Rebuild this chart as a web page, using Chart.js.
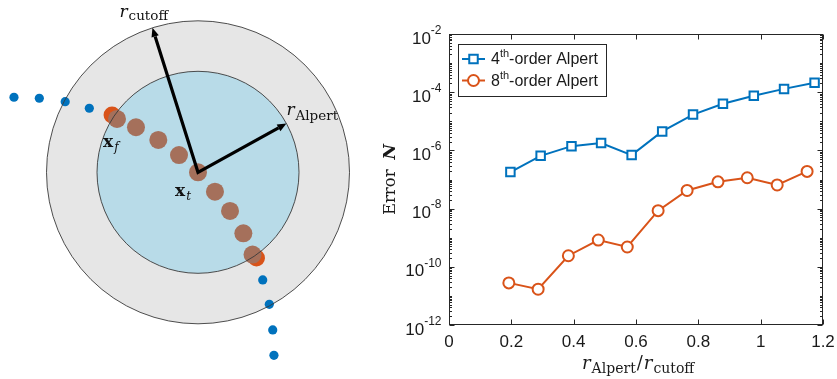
<!DOCTYPE html>
<html>
<head>
<meta charset="utf-8">
<script src="https://cdn.jsdelivr.net/npm/chart.js@4.4.1/dist/chart.umd.min.js"></script>
<style>
  html, body { margin: 0; padding: 0; background: #fff; }
  #wrap { position: relative; width: 837px; height: 379px; }
  #stencil { position: absolute; left: 0; top: 0; }
  #errors { position: absolute; left: 380px; top: 0; }
</style>
</head>
<body>
<div id="wrap">
  <canvas id="stencil" width="380" height="379"></canvas>
  <canvas id="errors" width="457" height="379"></canvas>
</div>
<script>
// stencil sketch, lengths in units of r_Alpert
var rAlpert = 1.0;
var rCutoff = 1.5;
var cutoffAngle = 107.5;   // degrees, counter-clockwise from +x
var alpertAngle = 28.9;

// far-field nodes (blue)
var farX = [-1.822, -1.571, -1.315, -1.076, 0.641, 0.706, 0.740, 0.752];
var farY = [0.743, 0.733, 0.699, 0.634, -1.066, -1.307, -1.561, -1.812];
// nodes on the Alpert boundary (red)
var edgeX = [-0.851, 0.579];
var edgeY = [0.567, -0.848];
// corrected nodes inside r_Alpert (brown)
var nearX = [-0.802, -0.614, -0.393, -0.188, 0.0, 0.168, 0.317, 0.449, 0.540];
var nearY = [0.528, 0.446, 0.320, 0.171, 0.0, -0.192, -0.383, -0.604, -0.815];

// error vs r_Alpert / r_cutoff
var ratio4 = [0.197, 0.294, 0.393, 0.488, 0.586, 0.684, 0.783, 0.879, 0.978, 1.075, 1.173];
var error4 = [1.8e-7, 6.5e-7, 1.4e-6, 1.8e-6, 6.9e-7, 4.5e-6, 1.7e-5, 4.0e-5, 7.6e-5, 1.3e-4, 2.1e-4];
var ratio8 = [0.192, 0.286, 0.383, 0.479, 0.572, 0.671, 0.764, 0.863, 0.957, 1.053, 1.149];
var error8 = [2.8e-11, 1.7e-11, 2.4e-10, 8.3e-10, 4.8e-10, 8.5e-9, 4.2e-8, 8.3e-8, 1.15e-7, 6.5e-8, 1.9e-7];

var xTicks = [0, 0.2, 0.4, 0.6, 0.8, 1, 1.2];
var yTickExp = [-12, -10, -8, -6, -4, -2];

var BLUE = '#0072BD';
var ORANGE = '#D95319';
var INK = '#262626';

function pts(xs, ys) {
    return xs.map(function (x, i) { return { x: x, y: ys[i] }; });
}

// base text followed by a lowered subscript, returns end x
function subText(ctx, x, y, base, baseFont, sub, subFont, drop) {
    ctx.font = baseFont;
    ctx.fillText(base, x, y);
    var w = ctx.measureText(base).width + 1;
    ctx.font = subFont;
    ctx.fillText(sub, x + w, y + drop);
    return x + w + ctx.measureText(sub).width;
}

function arrowHead(ctx, x0, y0, x1, y1, len, half) {
    var a = Math.atan2(y1 - y0, x1 - x0);
    var bx = x1 - len * Math.cos(a), by = y1 - len * Math.sin(a);
    ctx.beginPath();
    ctx.moveTo(x1, y1);
    ctx.lineTo(bx + half * Math.sin(a), by - half * Math.cos(a));
    ctx.lineTo(bx - half * Math.sin(a), by + half * Math.cos(a));
    ctx.closePath();
    ctx.fill();
    return { x: bx, y: by };
}

var stencilPlugin = {
    id: 'stencil',
    beforeDatasetsDraw: function (chart) {
        var ctx = chart.ctx, xs = chart.scales.x, ys = chart.scales.y;
        var cx = xs.getPixelForValue(0), cy = ys.getPixelForValue(0);
        ctx.save();
        ctx.beginPath();
        ctx.arc(cx, cy, xs.getPixelForValue(rCutoff) - cx, 0, 2 * Math.PI);
        ctx.fillStyle = '#e6e6e6';
        ctx.fill();
        ctx.beginPath();
        ctx.arc(cx, cy, xs.getPixelForValue(rAlpert) - cx, 0, 2 * Math.PI);
        ctx.fillStyle = '#b8dbe8';
        ctx.fill();
        ctx.restore();
    },
    afterDatasetsDraw: function (chart) {
        var ctx = chart.ctx, xs = chart.scales.x, ys = chart.scales.y;
        var cx = xs.getPixelForValue(0), cy = ys.getPixelForValue(0);
        ctx.save();
        // circle outlines sit on top of the nodes
        ctx.strokeStyle = '#3a3a3a';
        ctx.lineWidth = 0.9;
        [rCutoff, rAlpert].forEach(function (r) {
            ctx.beginPath();
            ctx.arc(cx, cy, xs.getPixelForValue(r) - cx, 0, 2 * Math.PI);
            ctx.stroke();
        });

        // radius arrows
        var ca = cutoffAngle * Math.PI / 180, aa = alpertAngle * Math.PI / 180;
        var tc = { x: xs.getPixelForValue(rCutoff * Math.cos(ca)), y: ys.getPixelForValue(rCutoff * Math.sin(ca)) };
        var ta = { x: xs.getPixelForValue(rAlpert * Math.cos(aa)), y: ys.getPixelForValue(rAlpert * Math.sin(aa)) };
        ctx.fillStyle = '#000';
        ctx.strokeStyle = '#000';
        var bc = arrowHead(ctx, cx, cy, tc.x, tc.y, 9, 3.8);
        var ba = arrowHead(ctx, cx, cy, ta.x, ta.y, 9, 3.8);
        ctx.lineWidth = 3.2;
        ctx.lineJoin = 'miter';
        ctx.beginPath();
        ctx.moveTo(bc.x, bc.y);
        ctx.lineTo(cx, cy);
        ctx.lineTo(ba.x, ba.y);
        ctx.stroke();

        // labels
        ctx.fillStyle = '#111';
        ctx.textBaseline = 'alphabetic';
        ctx.textAlign = 'left';
        subText(ctx, tc.x - 33, tc.y - 11, 'r', 'italic 17px "DejaVu Serif"', 'cutoff', '13.5px "DejaVu Serif"', 3.5);
        subText(ctx, ta.x + 0, ta.y - 8, 'r', 'italic 17px "DejaVu Serif"', 'Alpert', '13.5px "DejaVu Serif"', 4.5);
        subText(ctx, cx - 95, cy - 25, 'x', 'bold 17px "DejaVu Serif"', 'f', 'italic 12px "DejaVu Serif"', 4);
        subText(ctx, cx - 23, cy + 24, 'x', 'bold 17px "DejaVu Serif"', 't', 'italic 12px "DejaVu Serif"', 4);
        ctx.restore();
    }
};

new Chart(document.getElementById('stencil'), {
    type: 'scatter',
    data: {
        datasets: [
            { data: pts(nearX, nearY), pointRadius: 9, pointBackgroundColor: '#a5705b', pointBorderWidth: 0 },
            { data: pts(edgeX, edgeY), pointRadius: 8.5, pointBackgroundColor: ORANGE, pointBorderWidth: 0 },
            { data: pts(farX, farY), pointRadius: 4.6, pointBackgroundColor: BLUE, pointBorderWidth: 0 }
        ]
    },
    options: {
        responsive: false,
        animation: false,
        events: [],
        layout: { padding: 0, autoPadding: false },
        plugins: { legend: { display: false }, tooltip: { enabled: false } },
        scales: {
            x: { type: 'linear', display: false, bounds: 'data', min: -198 / 101, max: 182 / 101 },
            y: { type: 'linear', display: false, bounds: 'data', min: -206.7 / 101, max: 172.3 / 101 }
        }
    },
    plugins: [stencilPlugin]
});

// box axes with inward ticks, tick labels, axis titles and legend
var axesPlugin = {
    id: 'boxAxes',
    afterDatasetsDraw: function (chart) {
        var ctx = chart.ctx, a = chart.chartArea;
        var xs = chart.scales.x, ys = chart.scales.y;
        var L = Math.round(a.left) + 0.5, R = Math.round(a.right) - 0.5;
        var T = Math.round(a.top) + 0.5, B = Math.round(a.bottom) - 0.5;
        ctx.save();
        ctx.strokeStyle = INK;
        ctx.lineWidth = 1;
        ctx.strokeRect(L, T, R - L, B - T);

        ctx.beginPath();
        xTicks.forEach(function (v) {
            var px = Math.round(xs.getPixelForValue(v)) + 0.5;
            ctx.moveTo(px, B); ctx.lineTo(px, B - 5);
            ctx.moveTo(px, T); ctx.lineTo(px, T + 5);
        });
        for (var e = -12; e <= -2; e++) {
            for (var m = 1; m <= 9; m++) {
                if (e === -2 && m > 1) break;
                var py = Math.round(ys.getPixelForValue(m * Math.pow(10, e))) + 0.5;
                var len = (m === 1 && e % 2 === 0) ? 5 : 2.5;
                ctx.moveTo(L, py); ctx.lineTo(L + len, py);
                ctx.moveTo(R, py); ctx.lineTo(R - len, py);
            }
        }
        ctx.stroke();

        // tick labels
        ctx.fillStyle = '#1a1a1a';
        ctx.textBaseline = 'middle';
        ctx.textAlign = 'center';
        ctx.font = '17px "Liberation Sans"';
        xTicks.forEach(function (v) {
            ctx.fillText(String(v), xs.getPixelForValue(v), 342);
        });
        yTickExp.forEach(function (e) {
            var py = ys.getPixelForValue(Math.pow(10, e));
            var right = a.left - 7.5;
            ctx.font = '12px "Liberation Sans"';
            ctx.textAlign = 'right';
            var sw = ctx.measureText(String(e)).width;
            ctx.fillText(String(e), right, py - 3.5);
            ctx.font = '17px "Liberation Sans"';
            ctx.fillText('10', right - sw, py + 5);
        });

        // x title: r_Alpert / r_cutoff
        ctx.textBaseline = 'alphabetic';
        ctx.textAlign = 'left';
        var xt = (a.left + a.right) / 2 - 54;
        xt = subText(ctx, xt, 369, 'r', 'italic 18px "DejaVu Serif"', 'Alpert', '14px "DejaVu Serif"', 3.5);
        ctx.font = '18px "DejaVu Serif"';
        ctx.fillText('/', xt + 1, 369);
        xt += ctx.measureText('/').width + 2;
        subText(ctx, xt, 369, 'r', 'italic 18px "DejaVu Serif"', 'cutoff', '14px "DejaVu Serif"', 3.5);

        // y title: Error N
        ctx.save();
        ctx.translate(a.left - 54, (a.top + a.bottom) / 2);
        ctx.rotate(-Math.PI / 2);
        ctx.font = '16.5px "DejaVu Serif"';
        var w1 = ctx.measureText('Error').width;
        ctx.font = 'italic bold 17px "DejaVu Serif"';
        var w2 = ctx.measureText('N').width;
        var gap = 10, s = -(w1 + gap + w2) / 2;
        ctx.font = '16.5px "DejaVu Serif"';
        ctx.fillText('Error', s, 0);
        ctx.font = 'italic bold 17px "DejaVu Serif"';
        ctx.fillText('N', s + w1 + gap, 0);
        ctx.restore();

        // legend
        var bx = a.left + 8.5, by = a.top + 9.5;
        ctx.fillStyle = '#fff';
        ctx.fillRect(bx, by, 148, 52);
        ctx.strokeStyle = INK;
        ctx.lineWidth = 1;
        ctx.strokeRect(Math.round(bx) + 0.5, Math.round(by) + 0.5, 148, 52);
        chart.data.datasets.forEach(function (ds, i) {
            var ry = by + 15.5 + i * 21.5;
            ctx.strokeStyle = ds.borderColor;
            ctx.lineWidth = ds.borderWidth;
            ctx.beginPath();
            ctx.moveTo(bx + 4.5, ry); ctx.lineTo(bx + 27.5, ry);
            ctx.stroke();
            ctx.fillStyle = '#fff';
            Chart.helpers.drawPoint(ctx, { pointStyle: ds.pointStyle, radius: ds.pointRadius, borderWidth: ds.pointBorderWidth, rotation: 0 }, bx + 16, ry);
            ctx.fillStyle = '#1a1a1a';
            ctx.textBaseline = 'middle';
            ctx.textAlign = 'left';
            var tx = bx + 33.5;
            ctx.font = '16px "Liberation Sans"';
            ctx.fillText(ds.order4 ? '4' : '8', tx, ry + 1);
            tx += ctx.measureText('4').width;
            ctx.font = '11px "Liberation Sans"';
            ctx.fillText('th', tx, ry - 5);
            tx += ctx.measureText('th').width;
            ctx.font = '16px "Liberation Sans"';
            ctx.fillText('-order Alpert', tx, ry + 1);
        });
        ctx.restore();
    }
};

new Chart(document.getElementById('errors'), {
    type: 'line',
    data: {
        datasets: [
            {
                label: '4th-order Alpert', order4: true,
                data: pts(ratio4, error4),
                borderColor: BLUE, borderWidth: 2,
                pointStyle: 'rect', pointRadius: 6, pointBorderWidth: 2,
                pointBackgroundColor: '#fff', pointBorderColor: BLUE
            },
            {
                label: '8th-order Alpert', order4: false,
                data: pts(ratio8, error8),
                borderColor: ORANGE, borderWidth: 2,
                pointStyle: 'circle', pointRadius: 5.5, pointBorderWidth: 2,
                pointBackgroundColor: '#fff', pointBorderColor: ORANGE
            }
        ]
    },
    options: {
        responsive: false,
        animation: false,
        events: [],
        layout: { padding: { left: 69, right: 14, top: 34, bottom: 54 }, autoPadding: false },
        plugins: { legend: { display: false }, tooltip: { enabled: false } },
        scales: {
            x: { type: 'linear', display: false, min: 0, max: 1.2 },
            y: { type: 'logarithmic', display: false, min: 1e-12, max: 1e-2 }
        }
    },
    plugins: [axesPlugin]
});
</script>
</body>
</html>
